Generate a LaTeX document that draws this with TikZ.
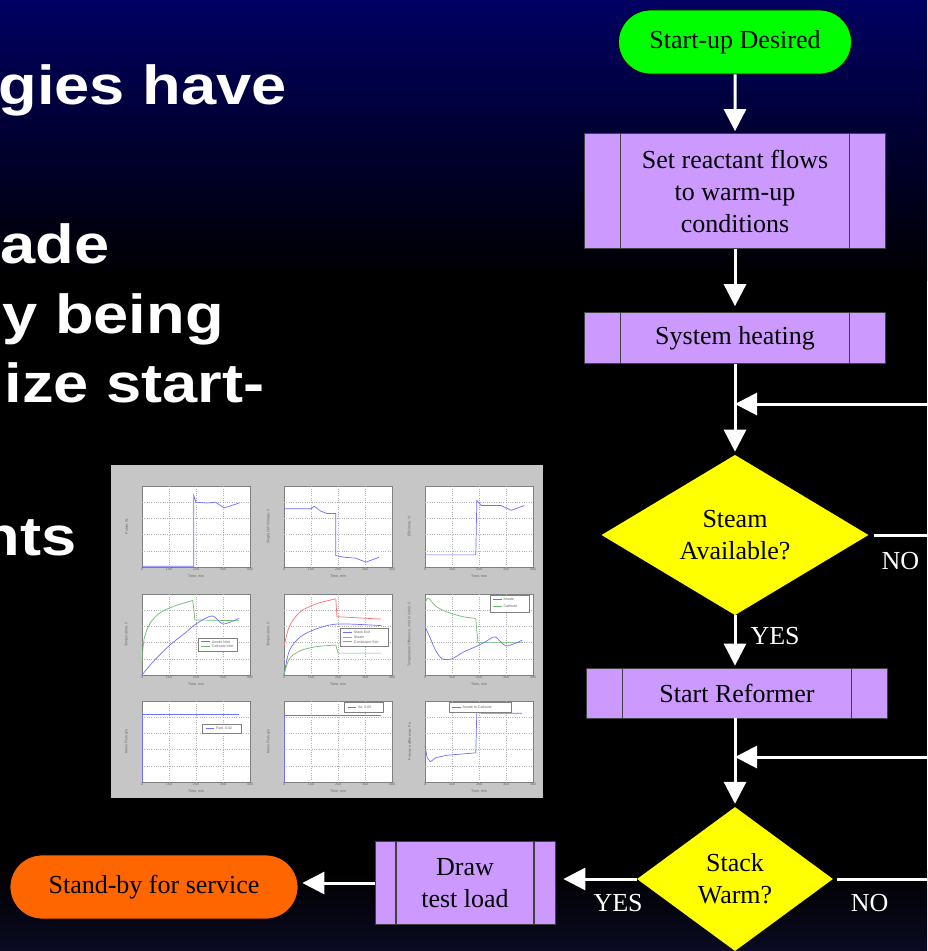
\documentclass[tikz,border=0pt]{standalone}
\usepackage{fontspec}
\setmainfont{Liberation Serif}
\newfontfamily\headfont{Liberation Sans}
\usetikzlibrary{positioning, arrows.meta, shapes.geometric, shapes.misc}
\definecolor{cStart}{HTML}{00FF00}
\definecolor{cStop}{HTML}{FF6600}
\definecolor{cProc}{HTML}{CC99FF}
\definecolor{cTest}{HTML}{FFFF00}
\definecolor{cSkyTop}{HTML}{000062}
\definecolor{cSkyBot}{HTML}{0A0A22}
\definecolor{cPlot}{HTML}{C6C6C6}
\definecolor{cBlue}{HTML}{6E6EFF}
\definecolor{cGreen}{HTML}{6CBF6C}
\definecolor{cRed}{HTML}{FF6E6E}

\begin{document}
\begin{tikzpicture}[
  x=1pt, y=-1pt,
  font=\fontsize{26}{32}\selectfont,
  >={Triangle[length=22pt, width=22pt]},
  term/.style={rounded rectangle, draw=black, line width=0.8pt,
               minimum height=64pt, inner sep=0pt},
  proc/.style={rectangle, draw=black!75, fill=cProc, line width=0.8pt,
               align=center, inner sep=0pt, minimum width=301pt,
               path picture={\draw[line width=1.6pt]
                 ([xshift=#1]path picture bounding box.north west) --
                 ([xshift=#1]path picture bounding box.south west)
                 ([xshift=-#1]path picture bounding box.north east) --
                 ([xshift=-#1]path picture bounding box.south east);}},
  proc/.default=36pt,
  test/.style={diamond, fill=cTest, align=center, inner sep=0pt},
  flow/.style={->, draw=white, line width=3pt},
  wire/.style={draw=white, line width=3pt},
  lbl/.style={text=white, inner sep=0pt},
  head/.style={font=\headfont\bfseries\fontsize{55}{60}\selectfont,
               text=white, inner sep=0pt, xscale=1.15},
  panel/.style={shift={#1}, x={(108pt,0pt)}, y={(0pt,81pt)}},
  tick/.style={font=\headfont\fontsize{3.6}{4}\selectfont, text=black!60,
               inner sep=0.6pt},
  gridln/.style={draw=black!30, dotted, line width=0.3pt},
  curve/.style={line width=0.7pt},
  legend/.style={draw=black!50, fill=white, line width=0.3pt},
]
\useasboundingbox (0,0) rectangle (927,951);

% ====================== slide background ===============================
\fill[top color=cSkyTop, bottom color=black] (0,0) rectangle (927,280);
\fill[black] (0,280) rectangle (927,870);
\fill[top color=black, bottom color=cSkyBot] (0,870) rectangle (927,951);

% ====================== bullet text (cut at the left) ==================
\node[head, anchor=base east] (line1) at (287,104) {gies have};
\node[head, anchor=base east] (line2) at (110,263) {rade};
\node[head, anchor=base east] (line3) at (224,333) {y being};
\node[head, anchor=base east] (line4) at (265,402) {ize start-};
\node[head, anchor=base east] (line5) at (77,555) {nts};

% ====================== simulation results thumbnail ===================
\fill[cPlot] (111,465) rectangle (543,798);
\foreach \px/\py/\ylab in {142/567/{Power, W}, 284/567/{Single Cell Voltage, V},
    425/567/{Efficiency, \%}, 142/675/{Temperature, C}, 284/675/{Temperature, C},
    425/675/{Temperature Difference, inlet to outlet, C}, 142/782/{Mass Flow, g/s},
    284/782/{Mass Flow, g/s}, 425/782/{Pressure difference, Pa}} {
  \begin{scope}[panel={(\px,\py)}]
    \draw[fill=white, draw=black!50, line width=0.4pt] (0,0) rectangle (1,1);
    \foreach \g in {0.25,0.5,0.75} \draw[gridln] (\g,0) -- (\g,1);
    \foreach \g in {0.2,0.4,0.6,0.8} \draw[gridln] (0,\g) -- (1,\g);
    \foreach \t/\u in {0/0, 100/0.25, 200/0.5, 300/0.75, 400/1}
      \node[tick, below] (xt-\px-\py-\t) at (\u,0) {\t};
    \node[tick, below] (xl-\px-\py) at (0.5,-0.09) {Time, min};
    \node[tick, rotate=90, above] (yl-\px-\py) at (-0.12,0.5) {\ylab};
  \end{scope}
}

% power
\begin{scope}[panel={(142,567)}]
  \draw[cBlue, curve] (0,0.01) -- (0.48,0.01) -- (0.48,0.88) -- (0.5,0.8)
    -- (0.6,0.79) -- (0.68,0.8) -- (0.76,0.73) -- (0.9,0.79);
\end{scope}
% cell voltage
\begin{scope}[panel={(284,567)}]
  \draw[cBlue, curve] (0,0.72) -- (0.25,0.72) -- (0.28,0.75) -- (0.34,0.69)
    -- (0.4,0.66) -- (0.48,0.66) -- (0.48,0.14) -- (0.56,0.12) -- (0.66,0.11)
    -- (0.76,0.06) -- (0.88,0.12);
\end{scope}
% efficiency
\begin{scope}[panel={(425,567)}]
  \draw[cBlue, curve] (0,0.15) -- (0.47,0.15) -- (0.48,0.82) -- (0.52,0.76)
    -- (0.7,0.76) -- (0.8,0.7) -- (0.92,0.76);
\end{scope}
% inlet temperatures
\begin{scope}[panel={(142,675)}]
  \draw[cGreen, curve] plot[smooth] coordinates {(0,0.15) (0.02,0.45)
    (0.08,0.65) (0.18,0.78) (0.32,0.86) (0.47,0.92)};
  \draw[cGreen, curve] (0.47,0.92) -- (0.49,0.68) -- (0.9,0.67);
  \draw[cBlue, curve] plot[smooth] coordinates {(0,0) (0.1,0.16) (0.25,0.36)
    (0.4,0.52) (0.5,0.63) (0.65,0.73) (0.75,0.63) (0.9,0.7)};
  \draw[legend] (0.52,0.3) rectangle (0.88,0.46);
  \draw[cBlue, curve] (0.55,0.41) -- (0.63,0.41);
  \draw[cGreen, curve] (0.55,0.35) -- (0.63,0.35);
  \node[tick, anchor=west] (lg4a) at (0.64,0.41) {Anode Inlet};
  \node[tick, anchor=west] (lg4b) at (0.64,0.35) {Cathode Inlet};
\end{scope}
% exit temperatures
\begin{scope}[panel={(284,675)}]
  \draw[cRed, curve] plot[smooth] coordinates {(0,0.35) (0.05,0.6) (0.15,0.78)
    (0.3,0.88) (0.48,0.94)};
  \draw[cRed, curve] (0.48,0.94) -- (0.49,0.72) -- (0.9,0.69);
  \draw[cBlue, curve] plot[smooth] coordinates {(0,0) (0.05,0.3) (0.15,0.47)
    (0.3,0.57) (0.5,0.63) (0.9,0.61)};
  \draw[cGreen, curve] plot[smooth] coordinates {(0,0) (0.05,0.2) (0.15,0.3)
    (0.3,0.35) (0.48,0.37)};
  \draw[cGreen, curve] (0.48,0.37) -- (0.5,0.27) -- (0.9,0.27);
  \draw[legend] (0.52,0.36) rectangle (0.96,0.58);
  \draw[cBlue, curve] (0.55,0.53) -- (0.63,0.53);
  \draw[cGreen, curve] (0.55,0.47) -- (0.63,0.47);
  \draw[cRed, curve] (0.55,0.41) -- (0.63,0.41);
  \node[tick, anchor=west] (lg5a) at (0.64,0.53) {Stack Exit};
  \node[tick, anchor=west] (lg5b) at (0.64,0.47) {Steam};
  \node[tick, anchor=west] (lg5c) at (0.64,0.41) {Combustor Exit};
\end{scope}
% temperature difference
\begin{scope}[panel={(425,675)}]
  \draw[cGreen, curve] plot[smooth] coordinates {(0,0.88) (0.03,0.95)
    (0.1,0.85) (0.2,0.78) (0.35,0.72) (0.47,0.7)};
  \draw[cGreen, curve] (0.47,0.7) -- (0.49,0.4) -- (0.9,0.4);
  \draw[cBlue, curve] plot[smooth] coordinates {(0,0.6) (0.05,0.45) (0.1,0.3)
    (0.16,0.2) (0.25,0.2) (0.35,0.28) (0.47,0.35) (0.56,0.41) (0.65,0.47)
    (0.75,0.36) (0.9,0.43)};
  \draw[legend] (0.6,0.78) rectangle (0.96,0.98);
  \draw[cBlue, curve] (0.63,0.93) -- (0.71,0.93);
  \draw[cGreen, curve] (0.63,0.85) -- (0.71,0.85);
  \node[tick, anchor=west] (lg6a) at (0.72,0.93) {Anode};
  \node[tick, anchor=west] (lg6b) at (0.72,0.85) {Cathode};
\end{scope}
% fuel flow
\begin{scope}[panel={(142,782)}]
  \draw[cBlue, curve] (0,0) -- (0,0.83) -- (0.9,0.83);
  \draw[legend] (0.56,0.6) rectangle (0.92,0.72);
  \draw[cBlue, curve] (0.59,0.66) -- (0.67,0.66);
  \node[tick, anchor=west] (lg7a) at (0.68,0.66) {Fuel, 0.02};
\end{scope}
% air flow
\begin{scope}[panel={(284,782)}]
  \draw[cBlue, curve] (0,0) -- (0,0.82) -- (0.9,0.82);
  \draw[legend] (0.56,0.86) rectangle (0.92,0.98);
  \draw[cBlue, curve] (0.59,0.92) -- (0.67,0.92);
  \node[tick, anchor=west] (lg8a) at (0.68,0.92) {Air, 0.05};
\end{scope}
% pressure difference
\begin{scope}[panel={(425,782)}]
  \draw[cBlue, curve] (0,0.45) -- (0.02,0.3) -- (0.05,0.25) -- (0.1,0.3)
    -- (0.2,0.33) -- (0.47,0.36) -- (0.48,0.88) -- (0.52,0.85) -- (0.9,0.85);
  \draw[legend] (0.22,0.86) rectangle (0.8,0.98);
  \draw[cBlue, curve] (0.25,0.92) -- (0.33,0.92);
  \node[tick, anchor=west] (lg9a) at (0.34,0.92) {Anode to Cathode};
\end{scope}

% ====================== start-up flowchart ============================
\node[term, fill=cStart, minimum width=233pt] (start) at (735,42) {Start-up Desired};
\node[proc, minimum height=115pt] (warm) at (735,191) {Set reactant flows\\to warm-up\\conditions};
\node[proc, minimum height=51pt] (heat) at (735,338) {System heating};
\node[test, minimum width=267pt, minimum height=149pt] (steam) at (735,535) {Steam\\Available?};
\node[proc, minimum height=50pt] (reform) at (737,693) {Start Reformer};
\node[test, minimum width=196pt, minimum height=144pt] (stack) at (735,879) {Stack\\Warm?};
\node[proc=21pt, minimum width=180pt, minimum height=83pt] (load) at (465,883) {Draw\\test load};
\node[term, fill=cStop, minimum width=288pt] (standby) at (154,887) {Stand-by for service};

% loop-back ends (off the right edge)
\coordinate (join1) at (735,404);
\coordinate (back1) at (927,404);
\coordinate (join2) at (735,757);
\coordinate (back2) at (927,757);
\coordinate (no1) at (927,535);
\coordinate (no2) at (927,879);

\draw[flow, shorten >=2pt] (start) -- (warm);
\draw[flow, shorten >=6pt] (warm) -- (heat);
\draw[flow, shorten >=3pt] (heat) -- (steam);
\draw[flow] (back1) -- (join1);
\draw[wire] ([xshift=5pt]steam.east) -- node[lbl, below=16pt] {NO} (no1);
\draw[flow, shorten >=2pt] (steam.south) -- node[lbl, pos=0.4, right=14pt] {YES}
  (steam.south |- reform.north);
\draw[flow, shorten >=3pt] (reform.south -| stack.north) -- (stack.north);
\draw[flow] (back2) -- (join2);
\draw[wire] ([xshift=4pt]stack.east) -- node[lbl, pos=0.36, below=14pt] {NO} (no2);
\draw[flow, shorten >=8pt] (stack.west) -- node[lbl, pos=0.23, below=14pt] {YES}
  (stack.west -| load.east);
\draw[flow, shorten >=4pt] (load.west) -- (load.west -| standby.east);

\end{tikzpicture}
\end{document}
